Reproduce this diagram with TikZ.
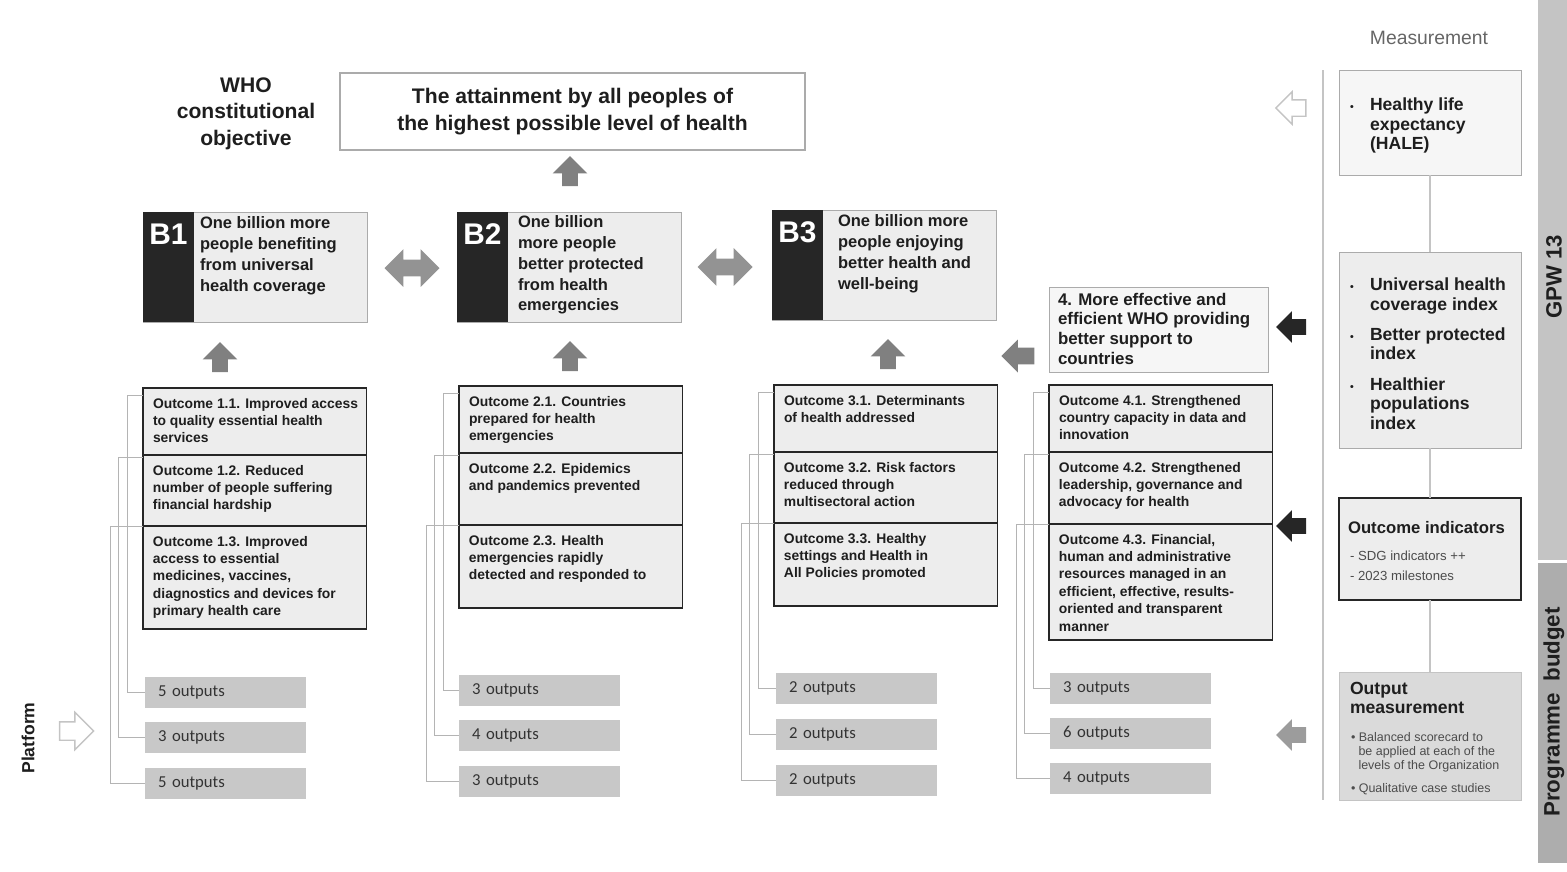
\documentclass[tikz,border=0pt]{standalone}
\usepackage{fontspec}
\setmainfont{Liberation Sans}
\newfontfamily\calib{Carlito}
\usetikzlibrary{shapes.arrows}

\definecolor{txt}{HTML}{1E1E1E}
\definecolor{darkbox}{HTML}{262626}
\definecolor{cellgray}{HTML}{EDEDED}
\definecolor{boxline}{HTML}{ABABAB}
\definecolor{lightline}{HTML}{C4C4C4}
\definecolor{linegray}{HTML}{B4B4B4}
\definecolor{outgray}{HTML}{C8C8C8}
\definecolor{arrgray}{HTML}{808080}
\definecolor{arrlight}{HTML}{9C9C9C}
\definecolor{paleg}{HTML}{F6F6F6}
\definecolor{midg}{HTML}{DADADA}
\definecolor{bargray}{HTML}{C4C4C4}
\definecolor{bargraydk}{HTML}{ADADAD}

\begin{document}
\begin{tikzpicture}[scale=0.2]
\tikzstyle{every node}+=[inner sep=0pt, outer sep=0pt]
\tikzstyle{cell}=[draw=darkbox, line width=0.9pt, fill=cellgray, anchor=north west, minimum width=4.47cm]
\tikzstyle{celltext}=[anchor=north west, align=left, text=txt, font=\fontsize{7.9}{9.9}\selectfont\bfseries, xshift=0.2cm, yshift=-0.2cm]
\tikzstyle{outbox}=[fill=outgray, anchor=north west, minimum height=0.62cm, inner xsep=0.26cm, text width=2.7cm, align=left, font=\calib\fontsize{9.5}{11}\selectfont, text=black!80]
\tikzstyle{conn}=[draw=linegray, line width=0.5pt]
\tikzstyle{upar}=[single arrow, shape border rotate=90, fill=arrgray, inner sep=0.15cm, minimum height=0.6cm, minimum width=0.68cm, single arrow head extend=0.19cm]
\tikzstyle{dblar}=[double arrow, fill=arrgray!85, inner sep=0.16cm, minimum height=1.1cm, minimum width=0.74cm, double arrow head extend=0.21cm]
\tikzstyle{leftar}=[single arrow, shape border rotate=180, inner sep=0.15cm, minimum height=0.6cm, minimum width=0.62cm, single arrow head extend=0.16cm]
\tikzstyle{bbox}=[draw=boxline, fill=cellgray, anchor=north west, minimum width=4.48cm, minimum height=2.2cm]
\tikzstyle{bkey}=[fill=darkbox, anchor=north west, minimum width=1.02cm, minimum height=2.2cm]
\tikzstyle{bkeytext}=[anchor=north, yshift=-0.24cm, text=white, font=\fontsize{17}{17}\selectfont\bfseries]
\tikzstyle{btext}=[anchor=north west, align=left, text=txt, font=\fontsize{9.4}{11.8}\selectfont\bfseries]
\tikzstyle{mbox}=[draw=boxline, anchor=north west, minimum width=3.64cm]
\tikzstyle{mtext}=[anchor=north west, align=left, text=txt, font=\fontsize{10}{11}\selectfont\bfseries]
\tikzstyle{small}=[anchor=north west, align=left, text=black!70, font=\fontsize{7.1}{8.2}\selectfont]
\useasboundingbox (0,0) rectangle (156.7,-87.1);

\node[align=center, text=txt, font=\fontsize{12}{15}\selectfont\bfseries] (who) at (24.6,-11.35) {WHO\\constitutional\\objective};
\node[draw=boxline, line width=0.8pt, fill=white, anchor=north west, minimum width=9.3cm, minimum height=1.54cm, align=center, text=txt, font=\fontsize{12}{15}\selectfont\bfseries] (goal) at (34,-7.3) {The attainment by all peoples of\\the highest possible level of health};
\node[upar] (upgoal) at (57.0,-17.5) {};

\node[bbox] (b1) at (14.3,-21.2) {};
\node[bkey] (b1k) at (b1.north west) {};
\node[bkeytext] (b1n) at (b1k.north) {B1};
\node[btext] (b1t) at (20.0,-21.7) {One billion more\\people benefiting\\from universal\\health coverage};
\node[bbox] (b2) at (45.7,-21.2) {};
\node[bkey] (b2k) at (b2.north west) {};
\node[bkeytext] (b2n) at (b2k.north) {B2};
\node[btext] (b2t) at (51.8,-21.6) {One billion\\more people\\better protected\\from health\\emergencies};
\node[bbox] (b3) at (77.2,-21.0) {};
\node[bkey] (b3k) at (b3.north west) {};
\node[bkeytext] (b3n) at (b3k.north) {B3};
\node[btext] (b3t) at (83.8,-21.5) {One billion more\\people enjoying\\better health and\\well-being};
\node[dblar] (d12) at (41.2,-26.8) {};
\node[dblar] (d23) at (72.5,-26.7) {};
\node[upar] (up1) at (22.0,-36.1) {};
\node[upar] (up2) at (57.0,-36.0) {};
\node[upar] (up3) at (88.8,-35.8) {};

\node[draw=boxline, fill=paleg, anchor=north west, minimum width=4.38cm, minimum height=1.7cm] (w4) at (104.9,-28.7) {};
\node[btext, font=\fontsize{9.6}{11.2}\selectfont\bfseries] (w4t) at (105.8,-29.3) {4. More effective and\\efficient WHO providing\\better support to\\countries};
\node[leftar, fill=arrgray, inner sep=0.16cm, minimum height=0.66cm, minimum width=0.66cm] (l4) at (102.2,-35.6) {};

\node[cell, minimum height=1.34cm] (o11) at (14.3,-38.8) {};
\node[cell, minimum height=1.42cm] (o12) at (o11.south west) {};
\node[cell, minimum height=2.06cm] (o13) at (o12.south west) {};
\node[celltext] (o11t) at (o11.north west) {Outcome 1.1. Improved access\\to quality essential health\\services};
\node[celltext] (o12t) at (o12.north west) {Outcome 1.2. Reduced\\number of people suffering\\financial hardship};
\node[celltext] (o13t) at (o13.north west) {Outcome 1.3. Improved\\access to essential\\medicines, vaccines,\\diagnostics and devices for\\primary health care};
\node[cell, minimum height=1.34cm] (o21) at (45.9,-38.6) {};
\node[cell, minimum height=1.44cm] (o22) at (o21.south west) {};
\node[cell, minimum height=1.66cm] (o23) at (o22.south west) {};
\node[celltext] (o21t) at (o21.north west) {Outcome 2.1. Countries\\prepared for health\\emergencies};
\node[celltext] (o22t) at (o22.north west) {Outcome 2.2. Epidemics\\and pandemics prevented};
\node[celltext] (o23t) at (o23.north west) {Outcome 2.3. Health\\emergencies rapidly\\detected and responded to};
\node[cell, minimum height=1.34cm] (o31) at (77.4,-38.5) {};
\node[cell, minimum height=1.42cm] (o32) at (o31.south west) {};
\node[cell, minimum height=1.66cm] (o33) at (o32.south west) {};
\node[celltext] (o31t) at (o31.north west) {Outcome 3.1. Determinants\\of health addressed};
\node[celltext] (o32t) at (o32.north west) {Outcome 3.2. Risk factors\\reduced through\\multisectoral action};
\node[celltext] (o33t) at (o33.north west) {Outcome 3.3. Healthy\\settings and Health in\\All Policies promoted};
\node[cell, minimum height=1.34cm] (o41) at (104.9,-38.5) {};
\node[cell, minimum height=1.44cm] (o42) at (o41.south west) {};
\node[cell, minimum height=2.32cm] (o43) at (o42.south west) {};
\node[celltext] (o41t) at (o41.north west) {Outcome 4.1. Strengthened\\country capacity in data and\\innovation};
\node[celltext] (o42t) at (o42.north west) {Outcome 4.2. Strengthened\\leadership, governance and\\advocacy for health};
\node[celltext] (o43t) at (o43.north west) {Outcome 4.3. Financial,\\human and administrative\\resources managed in an\\efficient, effective, results-\\oriented and transparent\\manner};

\node[outbox] (u11) at (14.5,-67.7) {5 outputs};
\node[outbox] (u12) at (14.5,-72.2) {3 outputs};
\node[outbox] (u13) at (14.5,-76.8) {5 outputs};
\node[outbox] (u21) at (45.9,-67.5) {3 outputs};
\node[outbox] (u22) at (45.9,-72.0) {4 outputs};
\node[outbox] (u23) at (45.9,-76.6) {3 outputs};
\node[outbox] (u31) at (77.6,-67.3) {2 outputs};
\node[outbox] (u32) at (77.6,-71.9) {2 outputs};
\node[outbox] (u33) at (77.6,-76.5) {2 outputs};
\node[outbox] (u41) at (105.0,-67.3) {3 outputs};
\node[outbox] (u42) at (105.0,-71.8) {6 outputs};
\node[outbox] (u43) at (105.0,-76.3) {4 outputs};
\draw[conn] ([yshift=-0.78cm]o11.north west) -- ++(-1.6,0) |- (u11.west);
\draw[conn] ([yshift=-0.26cm]o12.north west) -- ++(-2.5,0) |- (u12.west);
\draw[conn] (o13.north west) -- ++(-3.3,0) |- (u13.west);
\draw[conn] ([yshift=-0.78cm]o21.north west) -- ++(-1.6,0) |- (u21.west);
\draw[conn] ([yshift=-0.26cm]o22.north west) -- ++(-2.5,0) |- (u22.west);
\draw[conn] (o23.north west) -- ++(-3.3,0) |- (u23.west);
\draw[conn] ([yshift=-0.78cm]o31.north west) -- ++(-1.6,0) |- (u31.west);
\draw[conn] ([yshift=-0.26cm]o32.north west) -- ++(-2.5,0) |- (u32.west);
\draw[conn] (o33.north west) -- ++(-3.3,0) |- (u33.west);
\draw[conn] ([yshift=-0.74cm]o41.north west) -- ++(-1.6,0) |- (u41.west);
\draw[conn] ([yshift=-0.22cm]o42.north west) -- ++(-2.5,0) |- (u42.west);
\draw[conn] (o43.north west) -- ++(-3.3,0) |- (u43.west);

\node[single arrow, fill=white, draw=lightline, line width=0.8pt, inner sep=0.17cm, minimum height=0.68cm, minimum width=0.72cm, single arrow head extend=0.19cm] (plat) at (7.2,-73.1) {};
\node[rotate=90, text=txt, font=\fontsize{10}{12}\selectfont\bfseries] (platt) at (2.8,-73.8) {Platform};

\node[text=black!60, font=\fontsize{11}{13}\selectfont] (meas) at (142.9,-3.8) {Measurement};
\coordinate (mtop) at (132.3,-7.0);
\coordinate (mbot) at (132.3,-80.0);
\draw[draw=lightline, line width=0.8pt] (mtop) -- (mbot);
\node[mbox, fill=paleg, minimum height=2.1cm] (hale) at (133.9,-7.0) {};
\node[mtext] (halet) at (135.0,-9.8) {\makebox[0.4cm][l]{\fontsize{6}{6}\selectfont\textbullet}Healthy life\\ \hspace*{0.4cm}expectancy\\ \hspace*{0.4cm}(HALE)};
\node[mbox, fill=cellgray, minimum height=3.92cm] (idx) at (133.9,-25.2) {};
\node[mtext] (idxt) at (135.0,-27.8) {\makebox[0.4cm][l]{\fontsize{6}{6}\selectfont\textbullet}Universal health\\ \hspace*{0.4cm}coverage index\\[6.4pt]\makebox[0.4cm][l]{\fontsize{6}{6}\selectfont\textbullet}Better protected\\ \hspace*{0.4cm}index\\[6.4pt]\makebox[0.4cm][l]{\fontsize{6}{6}\selectfont\textbullet}Healthier\\ \hspace*{0.4cm}populations\\ \hspace*{0.4cm}index};
\node[mbox, draw=darkbox, line width=0.9pt, fill=cellgray, minimum height=2.04cm] (oind) at (133.9,-49.8) {};
\node[mtext, font=\fontsize{9.5}{11}\selectfont\bfseries] (oindt) at (134.8,-52.1) {Outcome indicators};
\node[small, font=\fontsize{7.5}{11.3}\selectfont] (oindl) at (135.0,-55.1) {- SDG indicators ++\\- 2023 milestones};
\node[mbox, draw=lightline, fill=midg, minimum height=2.56cm] (omeas) at (133.9,-67.2) {};
\node[mtext, font=\fontsize{10}{11}\selectfont\bfseries] (omeast) at (135.0,-68.2) {Output\\measurement};
\node[small] (omeasl) at (135.1,-73.2) {\textbullet\ Balanced scorecard to\\ \hspace*{0.6em}be applied at each of the\\ \hspace*{0.6em}levels of the Organization\\[4.5pt]\textbullet\ Qualitative case studies};
\draw[draw=lightline, line width=0.8pt] (hale.south) -- (idx.north);
\draw[draw=lightline, line width=0.8pt] (idx.south) -- (oind.north);
\draw[draw=lightline, line width=0.8pt] (oind.south) -- (omeas.north);
\node[leftar, fill=white, draw=lightline, line width=0.8pt] (arhale) at (129.5,-10.8) {};
\node[leftar, fill=darkbox] (aridx) at (129.5,-32.7) {};
\node[leftar, fill=darkbox] (aroind) at (129.5,-52.6) {};
\node[leftar, fill=arrlight] (aromeas) at (129.5,-73.5) {};

\node[fill=bargray, anchor=north west, minimum width=0.58cm, minimum height=11.2cm] (gpwbar) at (153.8,0) {};
\node[rotate=90, text=txt, font=\fontsize{12.6}{13}\selectfont\bfseries] (gpw) at (155.4,-27.7) {GPW 13};
\node[fill=bargraydk, anchor=north west, minimum width=0.58cm, minimum height=6.0cm] (pbbar) at (153.8,-56.3) {};
\node[rotate=90, text=txt, font=\fontsize{12.7}{13}\selectfont\bfseries] (pb) at (155.4,-71.2) {Programme\hspace*{0.5em}budget};
\end{tikzpicture}
\end{document}
